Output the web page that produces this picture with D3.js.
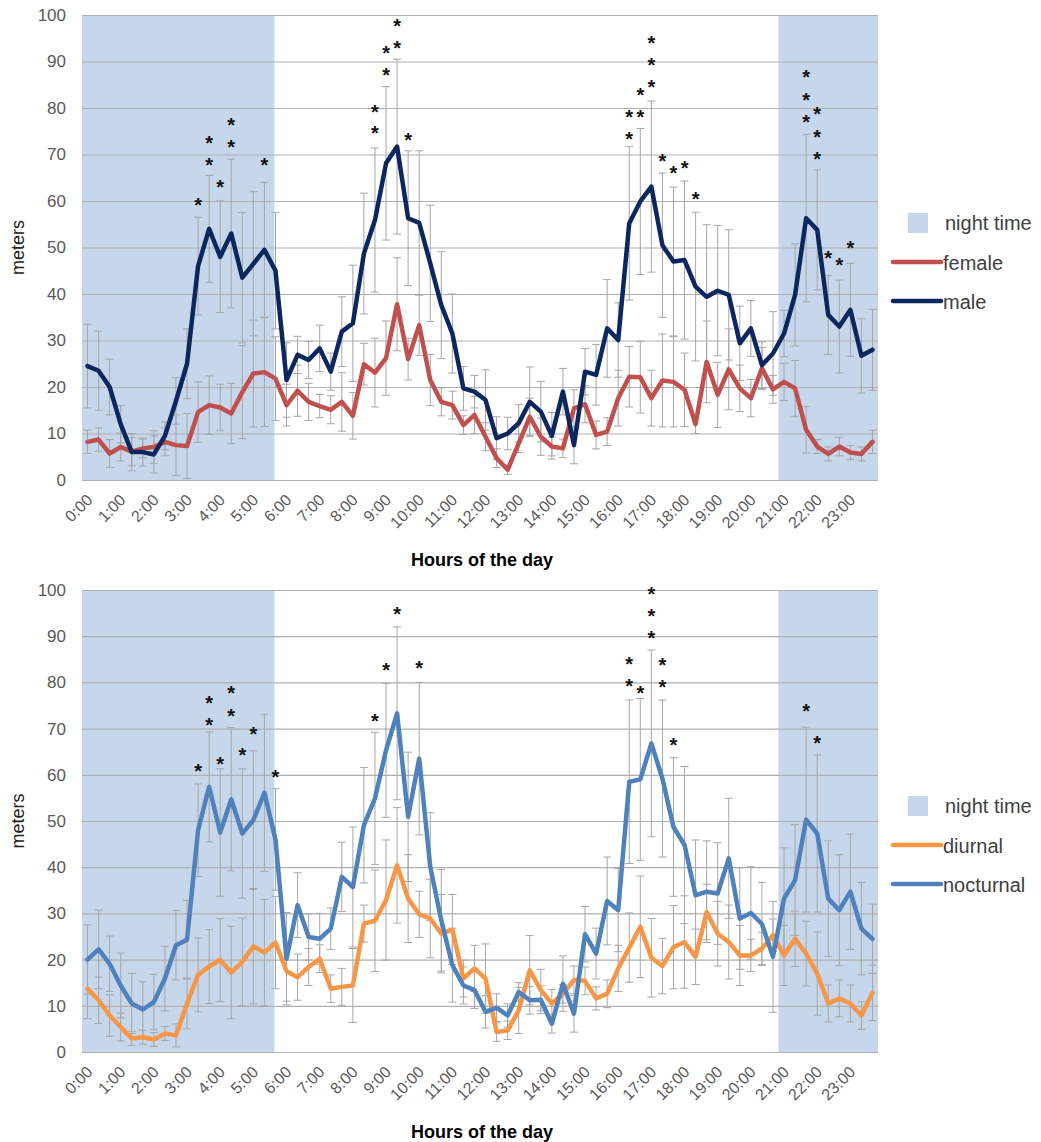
<!DOCTYPE html>
<html><head><meta charset="utf-8">
<script src="https://cdn.jsdelivr.net/npm/d3@7"></script>
<style>body{margin:0;background:#fff} text{font-family:"Liberation Sans",Arial,sans-serif}</style>
</head><body><svg id="c" width="1041" height="1142"></svg>
<script>
const hourLabels = d3.range(24).map(h => h + ":00");
const nightRanges = [[0, 5.8], [21, 24]]; // hours
const yTicks = d3.range(0, 101, 10);

const maleVals = [24.5,23.5,20,12,6,6,5.5,9.5,17,25,46,54,48,53,43.5,46.5,49.5,45,
 21.5,26.9,25.8,28.3,23.3,31.9,33.7,48.7,55.9,68.1,71.7,56.3,55.3,46.6,37.6,31.5,19.7,19.0,17.2,9.0,10.0,12.2,16.8,14.7,9.5,
 19.0,7.5,23.3,22.6,32.6,30.1,55.2,59.9,63.1,50.5,47.0,47.3,41.6,39.4,40.7,39.8,29.4,32.6,24.7,27.2,31.5,39.8,56.3,53.8,35.5,33.0,36.6,26.7,28.0];
const maleErr = [9,8.5,6,4,4,3,4,3,5,7.5,10.5,11.5,12,16,14,15.5,14.5,12.5,
 8,4,4,5,4,7.5,12.5,13,15.5,16.5,18.8,14.5,15.5,12.5,11.5,8.5,4.7,3.5,6.5,4.6,3.5,4,7.5,6.5,5,
 5,4,5,6.5,10.5,8,16.5,15.7,18.4,15.5,16,17,16,15.5,14,14,8,6,5,9,5,11,18,12.9,8.5,10,10,8,8.7];
const femaleVals = [8.2,8.7,5.7,7.1,6.1,6.8,7.1,8.2,7.5,7.3,14.6,16.1,15.6,14.3,18.9,22.9,23.2,21.8,
 16.1,19.2,16.8,15.9,15.1,16.8,13.8,24.9,23.1,26.2,37.8,26.0,33.3,21.5,16.8,16.1,11.8,14.0,9.3,4.7,2.2,7.9,13.6,9.3,7.2,
 6.8,15.4,16.3,9.7,10.4,17.6,22.2,22.1,17.6,21.4,21.1,19.4,12.0,25.4,18.3,23.8,19.7,17.6,24.0,19.5,21.1,19.7,10.8,7.2,5.6,7.2,5.9,5.6,8.2];
const femaleErr = [2.5,2.5,3,3,3,2,3.5,3,6.5,7,6.5,6.3,5,6.5,10,11.5,11.7,9,
 4.5,5.5,4,2.5,3,6.3,5,4.5,7.4,8,10,4.5,6.5,5.5,3,3,2,4,3,2,1,2,4,4,2,
 2,4,4,3,3,6,6.5,7.7,6,10,9.7,7.9,2,8.8,7,8.7,5,4,4.5,3,4,6,5,1.5,1.5,2,1.5,1.5,2.5];

const nocturnalVals = [20,22.2,19.1,14.4,10.5,9.2,10.8,15.9,23.1,24.3,48,57.4,47.5,54.7,47.3,50.2,56.1,46,
 20.2,31.8,24.9,24.5,26.7,37.9,35.7,49.1,54.9,65.3,73.3,50.9,63.5,40.1,28.5,18.8,14.4,13.4,8.7,9.6,7.9,13.0,11.2,11.3,6.1,
 14.8,8.3,25.5,21.3,32.7,30.7,58.5,59.0,66.8,59.2,48.7,44.8,33.9,34.7,34.3,41.9,28.9,30.1,27.7,20.6,33.2,37.2,50.3,47.3,33.2,30.7,34.7,26.7,24.5];
const nocturnalErr = [7.5,8.5,6,7,6.5,6,6,7,7.5,8.5,10,11.9,13.8,15.5,14,15,17,11,
 10,7,5,5.5,4.5,7.5,13,12.5,14.3,14.5,18.7,14,16.5,11.7,11,8,4,4,3.5,3,2.5,2,3,3,2,
 6,4,6,5.5,9.5,9,17.7,17.5,20.2,17,15,17,12,11,11,13,11,10,9,12,11,12,20,17,12.5,12,12.5,10,7.5];
const diurnalVals = [13.7,11.2,7.9,5.4,2.9,3.2,2.7,4.0,3.6,10.5,16.7,18.5,19.9,17.2,19.5,22.9,21.5,23.7,
 17.5,16.2,18.4,20.2,13.7,14.1,14.4,27.8,28.4,32.9,40.4,33.2,29.8,28.9,25.6,26.5,15.9,18.1,15.9,4.3,4.7,9.0,17.7,13.4,10.5,
 12.6,15.6,15.4,11.6,12.6,18.1,22.6,27.1,20.4,18.6,22.7,23.8,20.6,30.3,25.6,23.8,20.9,20.9,22.4,25.3,20.9,24.5,21.3,17.0,10.5,11.6,10.5,7.9,12.8];
const diurnalErr = [6.5,5,4.5,3,1.5,1.5,1.5,1.5,2.5,5.5,8,8,9,10,9.5,12.5,11.5,10,
 6.5,5,4,3,3,4,8,4,11,13,12.5,9.5,5,8.5,8.5,7.6,4,5,7.5,2,2,5,7.5,4.5,3,
 2,3,3,2.5,3,5,7.5,11,8.5,6,9,10,6,6,7,8,6.5,3.5,3.5,3.5,6.5,6,7,9,4,4,4,3,6];

// significance asterisks: [interval index, height in meters]
const starsTop = [[10,60],[11,73.4],[11,68.6],[12,63.9],[13,77.3],[13,72.5],[16,68.6],
 [26,80.1],[26,75.4],[27,92.6],[27,88],[28,98.4],[28,93.7],[29,74],
 [49,74.2],[49,78.9],[50,78.9],[50,83.7],[51,85.3],[51,90.1],[51,94.8],[52,69.4],[53,66.8],[54,68],[55,61.3],
 [65,87.5],[65,82.6],[65,77.8],[66,79.6],[66,74.7],[66,69.9],[67,48.6],[68,47.2],[69,50.8]];
const starsBottom = [[10,61.6],[11,76.5],[11,71.7],[12,63.3],[13,78.5],[13,73.6],[14,65.2],[15,69.8],[17,60.4],
 [26,72.6],[27,83.5],[28,95.7],[30,83.9],
 [49,84.8],[49,80.1],[50,78.5],[51,100],[51,95.2],[51,90.4],[52,84.7],[52,79.8],[53,67.4],
 [65,74.7],[66,67.7]];

const svg = d3.select("#c");
const X0 = 82, X1 = 878;
const x = d3.scaleBand().domain(d3.range(72)).range([X0, X1]);
const xc = i => x(i) + x.bandwidth() / 2;
const xh = d3.scaleLinear().domain([0, 24]).range([X0, X1]);
const NIGHT = "#c6d7ec";

function panel(top, bottom, series, stars, legendY) {
  const y = d3.scaleLinear().domain([0, 100]).range([bottom, top]);
  const g = svg.append("g");
  g.selectAll("rect.night").data(nightRanges).join("rect")
    .attr("x", d => xh(d[0])).attr("width", d => xh(d[1]) - xh(d[0]))
    .attr("y", y(100)).attr("height", y(0) - y(100)).attr("fill", NIGHT);
  const ax = g.append("g").attr("transform", `translate(${X0},0)`)
    .call(d3.axisLeft(y).tickValues(yTicks).tickSize(-(X1 - X0)).tickPadding(16));
  ax.select(".domain").remove();
  ax.selectAll(".tick line").attr("stroke", "#b0b0b0").attr("stroke-width", 1.2);
  ax.selectAll(".tick text").attr("font-size", 17).attr("fill", "#595959")
    .attr("font-family", '"Liberation Sans",Arial,sans-serif');
  // x labels
  g.selectAll("text.xl").data(d3.range(0, 72, 3)).join("text")
    .attr("transform", i => `translate(${xc(i) + 2},${bottom + 17}) rotate(-45)`)
    .attr("text-anchor", "end").attr("dy", "0.35em")
    .attr("font-size", 16).attr("fill", "#595959")
    .text(i => hourLabels[i / 3]);
  g.append("text").attr("x", 482).attr("y", bottom + 86).attr("text-anchor", "middle")
    .attr("font-size", 18).attr("font-weight", "bold").attr("fill", "#000").text("Hours of the day");
  g.append("text").attr("transform", `translate(18,${(top + bottom) / 2}) rotate(-90)`)
    .attr("text-anchor", "middle").attr("dy", "0.35em").attr("font-size", 18).attr("fill", "#222").text("meters");
  // error bars
  series.forEach(s => {
    const eb = g.append("g").attr("stroke", "#a6a6a6").attr("stroke-width", 1);
    s.vals.forEach((v, i) => {
      const lo = Math.max(0, v - s.err[i]), hi = v + s.err[i];
      eb.append("line").attr("x1", xc(i)).attr("x2", xc(i)).attr("y1", y(lo)).attr("y2", y(hi));
      eb.append("line").attr("x1", xc(i) - 4).attr("x2", xc(i) + 4).attr("y1", y(lo)).attr("y2", y(lo));
      eb.append("line").attr("x1", xc(i) - 4).attr("x2", xc(i) + 4).attr("y1", y(hi)).attr("y2", y(hi));
    });
  });
  const line = d3.line().x((d, i) => xc(i)).y(d => y(d));
  series.forEach(s => {
    g.append("path").attr("d", line(s.vals)).attr("fill", "none").attr("stroke", s.color)
      .attr("stroke-width", 4.5).attr("stroke-linejoin", "round").attr("stroke-linecap", "round");
  });
  g.selectAll("text.star").data(stars).join("text")
    .attr("x", d => xc(d[0])).attr("y", d => y(d[1]) + 11).attr("text-anchor", "middle")
    .attr("font-size", 20).attr("font-weight", "bold").attr("fill", "#111").text("*");
  // legend
  const lg = g.append("g").attr("font-size", 20).attr("fill", "#404040");
  lg.append("rect").attr("x", 908).attr("y", legendY).attr("width", 20).attr("height", 20).attr("fill", NIGHT);
  lg.append("text").attr("x", 945).attr("y", legendY + 10).attr("dy", "0.35em").attr("fill", "#404040").text("night time");
  series.forEach((s, k) => {
    const ly = legendY + 49 + k * 39;
    lg.append("line").attr("x1", 893).attr("x2", 941).attr("y1", ly).attr("y2", ly)
      .attr("stroke", s.color).attr("stroke-width", 4.5).attr("stroke-linecap", "round");
    lg.append("text").attr("x", 943).attr("y", ly + 1).attr("dy", "0.35em").attr("fill", "#404040").text(s.name);
  });
}

panel(15, 480, [
  {name: "female", vals: femaleVals, err: femaleErr, color: "#c0504d"},
  {name: "male", vals: maleVals, err: maleErr, color: "#0c275f"}
], starsTop, 213);
panel(590, 1052, [
  {name: "diurnal", vals: diurnalVals, err: diurnalErr, color: "#f79646"},
  {name: "nocturnal", vals: nocturnalVals, err: nocturnalErr, color: "#4f81bd"}
], starsBottom, 796);
</script></body></html>
